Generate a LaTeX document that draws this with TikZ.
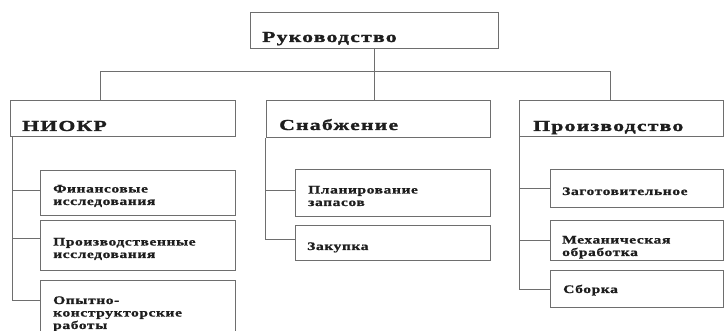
\documentclass[tikz,border=0pt]{standalone}
\usepackage{fontspec}
\setmainfont{Liberation Serif}
\newfontfamily\headfont[FakeStretch=1.42, LetterSpace=8, FakeBold=1.5]{Liberation Serif Bold}
\newfontfamily\itemfont[FakeStretch=1.35, LetterSpace=5, FakeBold=1]{Liberation Serif Bold}
\definecolor{linegray}{HTML}{6E6E6E}
\definecolor{inkgray}{HTML}{1E1E1E}

\begin{document}
\begin{tikzpicture}[x=1pt,y=-1pt,
    box/.style={draw=linegray, line width=1.1pt, anchor=north west, inner sep=0pt},
    head/.style={anchor=base west, inner sep=0pt, text=inkgray,
      font=\headfont\fontsize{15.3}{18}\selectfont},
    item/.style={anchor=base west, inner sep=0pt, align=left, text=inkgray,
      font=\itemfont\fontsize{11.5}{12.5}\selectfont},
    tree/.style={draw=linegray, line width=1pt}]
  \useasboundingbox (0,0) rectangle (724,331);
  \clip (0,0) rectangle (724,331);

  % top level
  \node[box, minimum width=248pt, minimum height=36pt] (ruk) at (250,12) {};
  \node[head] (rukT) at (262,42) {Руководство};

  % departments
  \node[box, minimum width=225pt, minimum height=36pt] (niokr) at (10,100) {};
  \node[head] (niokrT) at (22,131) {НИОКР};
  \node[box, minimum width=224pt, minimum height=37pt] (snab) at (266,100) {};
  \node[head] (snabT) at (279,130) {Снабжение};
  \node[box, minimum width=204pt, minimum height=36pt] (proizv) at (519,100) {};
  \node[head] (proizvT) at (533,131) {Производство};

  % НИОКР
  \node[box, minimum width=195pt, minimum height=45pt] (fin) at (40,170) {};
  \node[item] (finT) at (53,205) {Финансовые\\исследования};
  \node[box, minimum width=195pt, minimum height=50pt] (pris) at (40,220) {};
  \node[item] (prisT) at (53,258) {Производственные\\исследования};
  \node[box, minimum width=195pt, minimum height=70pt] (opyt) at (40,280) {};
  \node[item] (opytT) at (53,329) {Опытно-\\конструкторские\\работы};

  % Снабжение
  \node[box, minimum width=195pt, minimum height=47pt] (plan) at (295,169) {};
  \node[item] (planT) at (308,206) {Планирование\\запасов};
  \node[box, minimum width=195pt, minimum height=35pt] (zak) at (295,225) {};
  \node[item] (zakT) at (307,250) {Закупка};

  % Производство
  \node[box, minimum width=173pt, minimum height=38pt] (zag) at (550,169) {};
  \node[item] (zagT) at (562,195) {Заготовительное};
  \node[box, minimum width=173pt, minimum height=40pt] (mech) at (550,220) {};
  \node[item] (mechT) at (562,256) {Механическая\\обработка};
  \node[box, minimum width=173pt, minimum height=37pt] (sbor) at (550,270) {};
  \node[item] (sborT) at (563,293) {Сборка};

  % tree lines
  \draw[tree] (ruk.south) -- ++(0,22) coordinate (hub);
  \draw[tree] ([xshift=-22.5pt]niokr.north) |- (hub) -| ([xshift=-11pt]proizv.north);
  \draw[tree] (hub) -- (hub |- snab.north);

  \coordinate (nTop) at ([xshift=2pt]niokr.south west);
  \draw[tree] (nTop) |- ([yshift=3pt]fin.west);
  \draw[tree] (nTop) |- ([yshift=7pt]pris.west);
  \draw[tree] (nTop) |- ([yshift=15pt]opyt.west);

  \coordinate (sTop) at ([xshift=-1pt]snab.south west);
  \draw[tree] (sTop) |- ([yshift=2.5pt]plan.west);
  \draw[tree] (sTop) |- ([yshift=3.5pt]zak.west);

  \coordinate (pTop) at (proizv.south west);
  \draw[tree] (pTop) |- (zag.west);
  \draw[tree] (pTop) |- (mech.west);
  \draw[tree] (pTop) |- (sbor.west);
\end{tikzpicture}
\end{document}
